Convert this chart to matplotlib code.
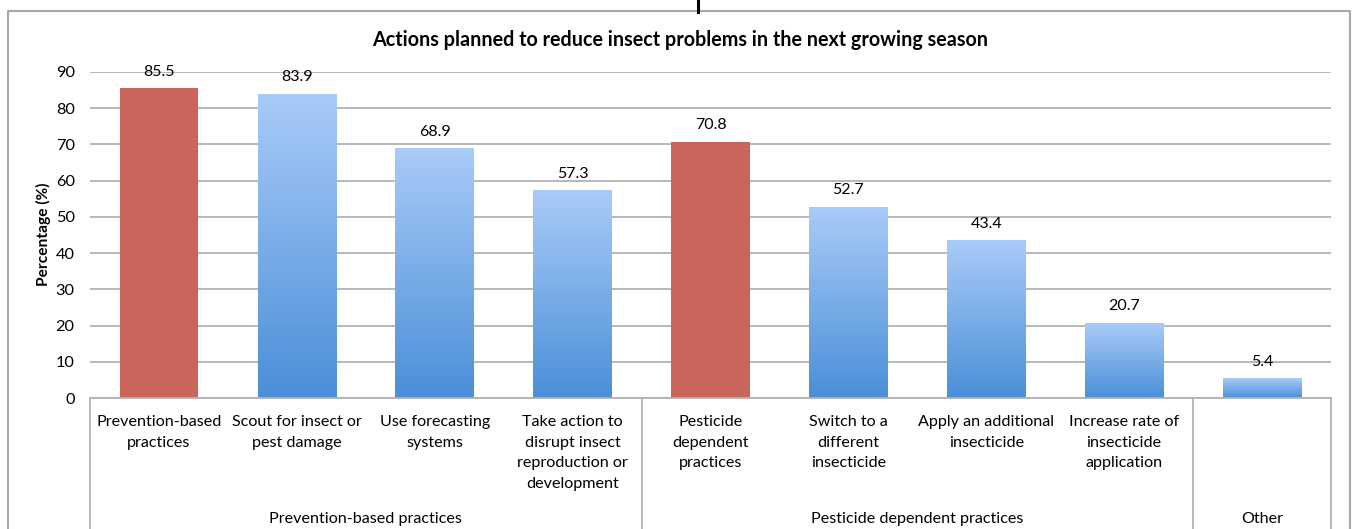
import numpy as np
import matplotlib.pyplot as plt
from matplotlib.colors import LinearSegmentedColormap
from matplotlib.lines import Line2D
from matplotlib.transforms import blended_transform_factory

plt.rcParams['font.family'] = ['Lato', 'DejaVu Sans']

categories = ['Prevention-based\npractices', 'Scout for insect or\npest damage',
              'Use forecasting\nsystems', 'Take action to\ndisrupt insect\nreproduction or\ndevelopment',
              'Pesticide\ndependent\npractices', 'Switch to a\ndifferent\ninsecticide',
              'Apply an additional\ninsecticide', 'Increase rate of\ninsecticide\napplication', '']
values = [85.5, 83.9, 68.9, 57.3, 70.8, 52.7, 43.4, 20.7, 5.4]
is_group_total = [True, False, False, False, True, False, False, False, False]
groups = ['Prevention-based practices', 'Pesticide dependent practices', 'Other']
group_sizes = [4, 4, 1]
y_ticks = list(range(0, 100, 10))

red = '#c9655b'
blue_cmap = LinearSegmentedColormap.from_list('bluegrad', ['#4a8fd8', '#a9cbf8'])
grid_gray = '#b2b2b2'
frame_gray = '#a8a8a8'

fig = plt.figure(figsize=(13.53, 5.29), dpi=100)
ax = fig.add_axes([0.0665, 0.2476, 0.9172, 0.6163])

x = np.arange(len(values))
bars = ax.bar(x, values, width=0.57, color=red, zorder=2)

# vertical gradient fill for the individual-action bars
grad = np.linspace(0, 1, 256).reshape(-1, 1)
for bar, total in zip(bars, is_group_total):
    if total:
        continue
    bar.set_facecolor('none')
    x0, w, h = bar.get_x(), bar.get_width(), bar.get_height()
    ax.imshow(grad, extent=[x0, x0 + w, 0, h], origin='lower', aspect='auto',
              cmap=blue_cmap, zorder=2)

for xi, v in zip(x, values):
    ax.annotate(f'{v}', (xi, v), xytext=(0, 7), textcoords='offset points',
                ha='center', va='bottom', fontsize=11.5)

ax.set_xlim(-0.5, len(values) - 0.5)
ax.set_ylim(0, 90)
ax.set_yticks(y_ticks)
ax.tick_params(axis='y', length=0, pad=11, labelsize=11.8)
ax.set_xticks([])
ax.yaxis.grid(True, color=grid_gray, linewidth=1.3, zorder=0)
ax.set_axisbelow(True)
for side in ['top', 'right', 'left']:
    ax.spines[side].set_visible(False)
ax.spines['bottom'].set_color(grid_gray)
ax.spines['bottom'].set_linewidth(1.3)

# two-level category axis
trans = blended_transform_factory(ax.transData, ax.transAxes)
for xi, label in zip(x, categories):
    ax.text(xi, -0.053, label, transform=trans, ha='center', va='top',
            fontsize=11.6, linespacing=1.6)

edges = np.concatenate([[0], np.cumsum(group_sizes)]) - 0.5
for e in edges:
    ax.plot([e, e], [0, -0.42], transform=trans, color=grid_gray,
            linewidth=1.3, clip_on=False)
for name, lo, hi in zip(groups, edges[:-1], edges[1:]):
    ax.text((lo + hi) / 2, -0.37, name, transform=trans, ha='center',
            va='center', fontsize=11.6)

fig.text(680 / 1353, 1 - 40 / 529, 'Actions planned to reduce insect problems in the next growing season',
         ha='center', va='center', fontsize=14.2, fontweight='bold')
fig.text(43 / 1353, 1 - 234 / 529, 'Percentage (%)', rotation=90,
         ha='center', va='center', fontsize=11.2, fontweight='bold')

# chart frame and the marker line above it
fl, ft, fr = 8 / 1353, 1 - 11 / 529, 1350 / 1353
fig.add_artist(Line2D([fl, fl, fr, fr], [0, ft, ft, 0], color=frame_gray, linewidth=1.5))
fig.add_artist(Line2D([698 / 1353, 698 / 1353], [1 - 12 / 529, 1], color='black', linewidth=2.2))

fig.savefig('out.png', dpi=100)
